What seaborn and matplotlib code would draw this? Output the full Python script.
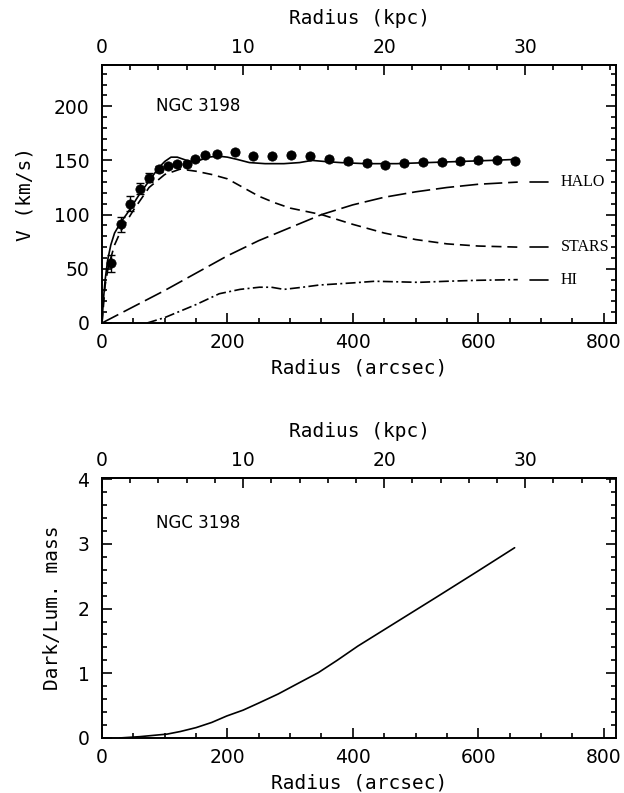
import numpy as np
import pandas as pd
import matplotlib
matplotlib.use("Agg")
import matplotlib.pyplot as plt
from matplotlib.ticker import MultipleLocator, FixedLocator
import seaborn as sns

# ---------------- data ----------------
obs_r = [14, 31, 45, 60, 75, 91, 105, 120, 135, 149, 165, 183, 212, 241, 271, 302,
         332, 362, 392, 422, 452, 482, 512, 542, 571, 600, 630, 659]
obs_v = [55, 91, 110, 124, 134, 142, 145, 146.5, 147, 151, 155, 156, 157.5, 154, 154,
         155, 154, 151, 149, 148, 146, 147.5, 148.5, 148.5, 149, 150, 150.5, 149.5]
obs_err = [8, 7, 7, 5, 4, 3, 2, 2, 2, 2, 2, 2, 2, 2, 2, 2, 2, 2, 2, 2, 2, 2, 2, 2, 2, 2, 2, 2]

fit_r = [0, 2, 5, 9, 14, 20, 30, 40, 50, 60, 75, 90, 100, 110, 120, 130, 140, 155, 170,
         185, 200, 215, 235, 260, 290, 315, 335, 355, 380, 420, 470, 520, 570, 620, 663]
fit_v = [0, 20, 40, 58, 72, 83, 93, 101, 110, 119, 131, 143, 149, 153, 153, 151, 149, 150,
         153, 154, 153, 151, 148, 147, 147, 148, 150, 149, 148, 147, 147, 148, 149, 150, 151]

stars_r = [0, 5, 10, 20, 30, 50, 75, 100, 125, 150, 175, 200, 225, 250, 275, 300, 350,
           400, 450, 500, 550, 600, 663]
stars_v = [0, 35, 52, 72, 85, 104, 125, 137, 142, 140, 137, 133, 125, 117, 111, 106, 100,
           91, 83, 77, 73, 71, 70]

halo_r = [0, 50, 100, 150, 200, 250, 300, 350, 400, 450, 500, 550, 600, 663]
halo_v = [0, 15, 30, 46, 62, 76, 88, 100, 109, 116, 121, 125, 128, 130]

hi_r = [72, 100, 125, 150, 187, 220, 251, 270, 290, 320, 346, 400, 435, 470, 505, 550, 600, 663]
hi_v = [0, 5, 11, 17, 27, 31, 33, 33, 31, 33, 35, 37, 38.5, 38, 37.5, 38.5, 39.4, 40]

ratio_r = [28, 60, 104, 125, 150, 175, 199, 225, 250, 281, 310, 345, 375, 408, 471, 534, 598, 658]
ratio_v = [0, 0.02, 0.06, 0.10, 0.16, 0.24, 0.34, 0.43, 0.54, 0.68, 0.83, 1.01, 1.20, 1.42,
           1.80, 2.18, 2.57, 2.94]

comp_names = ["HALO", "STARS", "HI"]
comp_label_v = [130, 70, 40]
label_seg_r = [683, 712]

galaxy = "NGC 3198"
kpc_ticks = [0, 10, 20, 30]
ARCSEC_PER_KPC = 22.5

# ---------------- style ----------------
sns.set_style("ticks")
plt.rcParams["font.family"] = ["DejaVu Sans"]
for key in ["text.color", "axes.labelcolor", "xtick.color", "ytick.color", "axes.edgecolor"]:
    plt.rcParams[key] = "black"
plt.rcParams["axes.linewidth"] = 1.4

fig = plt.figure(figsize=(6.24, 7.93), dpi=100)
ax1 = fig.add_axes([0.1635, 0.5927, 0.824, 0.3253])
ax2 = fig.add_axes([0.1635, 0.0694, 0.824, 0.328])

LW = 1.2
lab_font = dict(family=["DejaVu Sans Mono", "DejaVu Sans"], fontsize=14)
TICK_FS = 13.5


def style_axes(ax, ymajor, yminor):
    ax.set_xlim(0, 820)
    ax.xaxis.set_major_locator(MultipleLocator(200))
    ax.xaxis.set_minor_locator(MultipleLocator(50))
    ax.yaxis.set_major_locator(MultipleLocator(ymajor))
    ax.yaxis.set_minor_locator(MultipleLocator(yminor))
    ax.tick_params(which="both", direction="in", top=False, right=True,
                   labelsize=TICK_FS, width=1.2)
    ax.tick_params(which="major", length=7)
    ax.tick_params(axis="x", which="major", pad=7)
    ax.tick_params(axis="y", which="major", pad=9)
    ax.tick_params(which="minor", length=3.5)
    sec = ax.secondary_xaxis("top", functions=(lambda a: a / ARCSEC_PER_KPC,
                                               lambda k: k * ARCSEC_PER_KPC))
    sec.xaxis.set_major_locator(FixedLocator(kpc_ticks))
    sec.xaxis.set_minor_locator(FixedLocator(list(range(0, 37, 2))))
    sec.tick_params(which="both", direction="in", labelsize=TICK_FS, width=1.2,
                    colors="black")
    sec.tick_params(which="major", length=7, pad=6)
    sec.tick_params(which="minor", length=3.5)
    sec.set_xlabel("Radius (kpc)", labelpad=10, **lab_font)
    ax.set_xlabel("Radius (arcsec)", labelpad=5, **lab_font)
    for s in ax.spines.values():
        s.set_visible(True)
        s.set_linewidth(1.4)
        s.set_color("black")


# ---------------- top panel ----------------
sns.lineplot(x=fit_r, y=fit_v, ax=ax1, color="black", lw=LW, sort=False)
sns.lineplot(x=stars_r, y=stars_v, ax=ax1, color="black", lw=LW, sort=False,
             linestyle=(0, (6, 3.5)))
sns.lineplot(x=halo_r, y=halo_v, ax=ax1, color="black", lw=LW, sort=False,
             linestyle=(0, (11, 3.5)))
sns.lineplot(x=hi_r, y=hi_v, ax=ax1, color="black", lw=LW, sort=False,
             linestyle=(0, (6, 2, 1.2, 2)))
ax1.errorbar(obs_r, obs_v, yerr=obs_err, fmt="none", ecolor="black",
             elinewidth=1.0, capsize=3, capthick=1.0, zorder=3)
sns.scatterplot(x=obs_r, y=obs_v, ax=ax1, color="black", s=45,
                edgecolor="black", linewidth=0.5, zorder=4)

for name, v in zip(comp_names, comp_label_v):
    sns.lineplot(x=label_seg_r, y=[v, v], ax=ax1, color="black", lw=LW)
    ax1.text(732, v, name, ha="left", va="center", fontsize=11.5,
             family=["Liberation Serif", "DejaVu Serif"])

ax1.text(86, 200, galaxy, ha="left", va="center", fontsize=12,
         family=["DejaVu Sans", "Liberation Sans"])
ax1.set_ylim(0, 238)
style_axes(ax1, 50, 10)
ax1.set_ylabel("V (km/s)", labelpad=14, **lab_font)

# ---------------- bottom panel ----------------
sns.lineplot(x=ratio_r, y=ratio_v, ax=ax2, color="black", lw=LW, sort=False)
ax2.text(86, 3.33, galaxy, ha="left", va="center", fontsize=12,
         family=["DejaVu Sans", "Liberation Sans"])
ax2.set_ylim(0, 4.02)
style_axes(ax2, 1, 0.2)
ax2.set_ylabel("Dark/Lum. mass", labelpad=11, **lab_font)

fig.savefig("out.png", dpi=100)
